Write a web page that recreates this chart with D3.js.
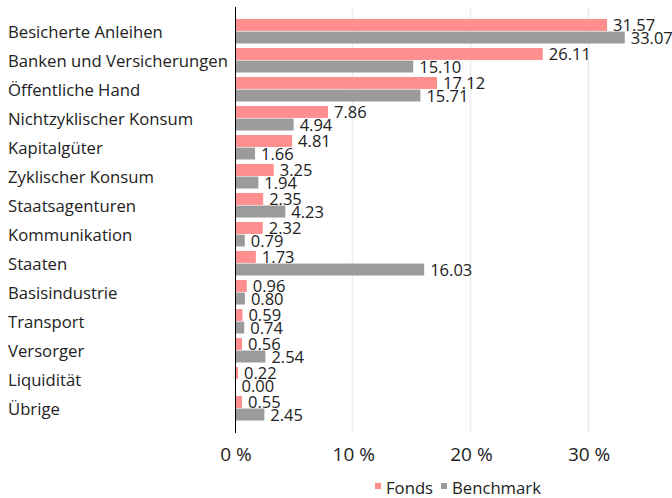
<!DOCTYPE html>
<html><head><meta charset="utf-8">
<script src="https://cdn.jsdelivr.net/npm/d3@7"></script>
<style>body{margin:0;background:#fff;}svg{display:block;font-family:"Open Sans","Noto Sans",sans-serif;}</style>
</head><body>
<svg id="c" width="672" height="498"></svg>
<script>
const categories = ["Besicherte Anleihen","Banken und Versicherungen","Öffentliche Hand","Nichtzyklischer Konsum","Kapitalgüter","Zyklischer Konsum","Staatsagenturen","Kommunikation","Staaten","Basisindustrie","Transport","Versorger","Liquidität","Übrige"];
const fonds = [31.57,26.11,17.12,7.86,4.81,3.25,2.35,2.32,1.73,0.96,0.59,0.56,0.22,0.55];
const benchmark = [33.07,15.10,15.71,4.94,1.66,1.94,4.23,0.79,16.03,0.80,0.74,2.54,0.00,2.45];
const seriesNames = ["Fonds","Benchmark"];
const seriesColors = ["#ff8e8e","#9b9b9b"];
const tickValues = [0,10,20,30];

const svg = d3.select("#c");
const x = d3.scaleLinear().domain([0,36]).range([235.5, 235.5+36*11.77]);
const y = d3.scaleBand().domain(categories).range([16.75,422.75]).paddingInner(0.155).paddingOuter(0.0775);
const ys = d3.scaleBand().domain(seriesNames).range([0,y.bandwidth()]).paddingInner(0.05);

// grid
svg.append("g").selectAll("line").data(tickValues.filter(d=>d>0)).join("line")
  .attr("x1",d=>Math.round(x(d))-0.5).attr("x2",d=>Math.round(x(d))-0.5)
  .attr("y1",7).attr("y2",433).attr("stroke","#ececec").attr("stroke-width",1.5);

// tick labels
const ax = svg.append("g").attr("transform","translate(0,461)")
  .call(d3.axisBottom(x).tickValues(tickValues).tickFormat(d=>d+" %").tickSize(0).tickPadding(0));
ax.select(".domain").remove();
ax.selectAll("text").attr("font-size",19).attr("fill","#222").attr("dy",0).attr("font-family","Open Sans, Noto Sans, sans-serif");

const data = categories.map((c,i)=>({c, v:[{s:"Fonds",v:fonds[i]},{s:"Benchmark",v:benchmark[i]}]}));
const g = svg.append("g").selectAll("g").data(data).join("g").attr("transform",d=>`translate(0,${y(d.c)})`);
g.selectAll("rect").data(d=>d.v).join("rect")
  .attr("x",x(0)).attr("y",d=>ys(d.s)).attr("height",ys.bandwidth())
  .attr("width",d=>x(d.v)-x(0)).attr("fill",(d,i)=>seriesColors[i]);
g.selectAll("text.v").data(d=>d.v).join("text").attr("class","v")
  .attr("x",d=>x(d.v)+6).attr("y",d=>ys(d.s)+ys.bandwidth()+0.5)
  .attr("font-size",16.5).attr("fill","#222").text(d=>d.v.toFixed(2));

// category labels
svg.append("g").selectAll("text").data(categories).join("text")
  .attr("x",8).attr("y",d=>y(d)+y.bandwidth()/2+7)
  .attr("font-size",16.7).attr("fill","#222").text(d=>d);

// axis line
svg.append("line").attr("x1",235.5).attr("x2",235.5).attr("y1",7).attr("y2",433).attr("stroke","#000").attr("stroke-width",1);

// legend
const leg = svg.append("g");
const legX = [375,441];
seriesNames.forEach((s,i)=>{
  leg.append("rect").attr("x",legX[i]).attr("y",483).attr("width",6).attr("height",6).attr("fill",seriesColors[i]);
  leg.append("text").attr("x",legX[i]+11).attr("y",493.5).attr("font-size",16.7).attr("fill","#222").text(s);
});
</script>
</body></html>
